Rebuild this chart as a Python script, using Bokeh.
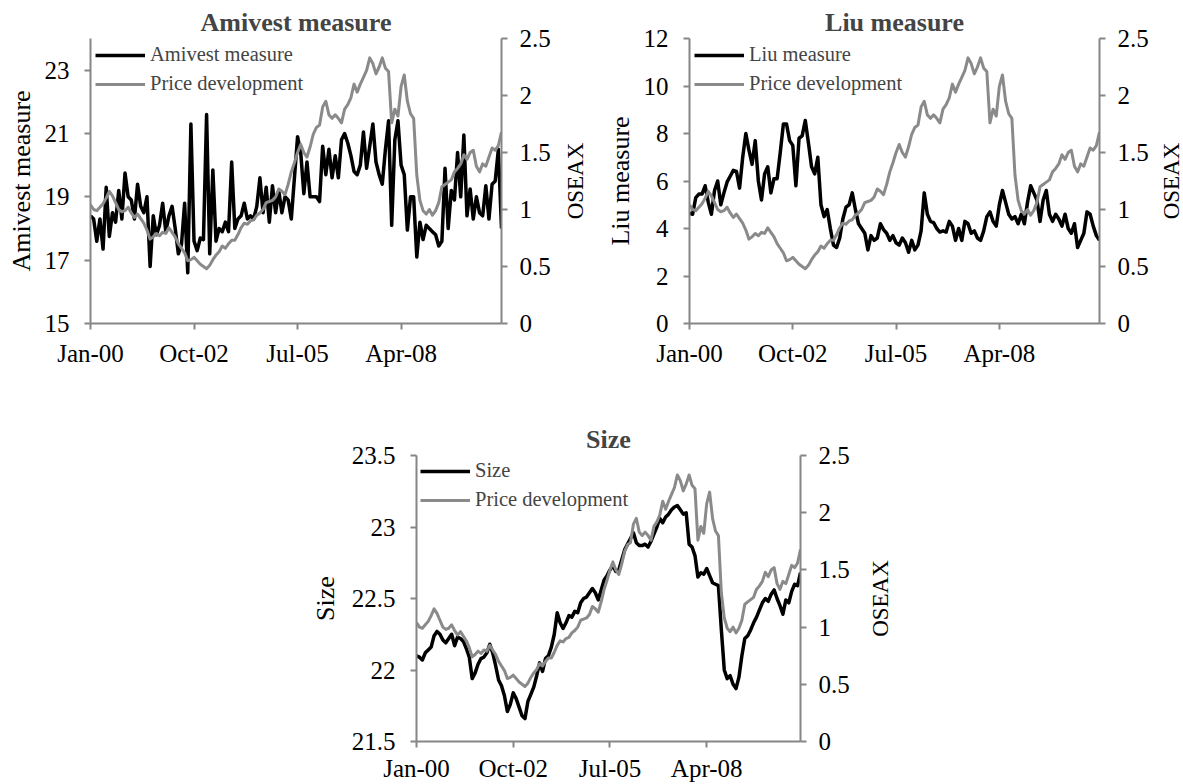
import pandas as pd
from bokeh.plotting import figure
from bokeh.models import (Range1d, LinearAxis, FixedTicker, Legend, LegendItem,
                          Spacer, CustomJSTickFormatter)
from bokeh.layouts import column, row
from bokeh.embed import file_html
from bokeh.resources import INLINE

# ---------------- data ----------------
months = list(pd.date_range("2000-01-01", periods=132, freq="MS").strftime("%b-%y"))
x_tick_labels = ["Jan-00", "Oct-02", "Jul-05", "Apr-08"]

oseax = [1.04, 1.00, 0.99, 1.02, 1.05, 1.10, 1.16, 1.12, 1.06, 1.00,
         0.98, 0.99, 1.02, 0.97, 0.93, 0.96, 0.92, 0.88, 0.82, 0.74,
         0.76, 0.79, 0.77, 0.80, 0.79, 0.84, 0.80, 0.76, 0.70, 0.66,
         0.62, 0.55, 0.56, 0.58, 0.55, 0.52, 0.50, 0.48, 0.51, 0.56,
         0.60, 0.63, 0.68, 0.66, 0.70, 0.73, 0.73, 0.78, 0.84, 0.88,
         0.87, 0.90, 0.91, 0.95, 0.97, 1.00, 1.06, 1.07, 1.08, 1.11,
         1.18, 1.16, 1.13, 1.22, 1.33, 1.41, 1.50, 1.57, 1.50, 1.46,
         1.55, 1.66, 1.72, 1.74, 1.90, 1.95, 1.83, 1.80, 1.83, 1.80,
         1.76, 1.88, 1.92, 1.98, 2.10, 2.03, 2.10, 2.16, 2.22, 2.33,
         2.28, 2.19, 2.25, 2.33, 2.24, 2.21, 1.76, 1.88, 1.82, 2.08,
         2.18, 1.95, 1.84, 1.80, 1.30, 1.08, 0.99, 0.96, 1.00, 0.95,
         0.99, 1.06, 1.20, 1.22, 1.24, 1.26, 1.33, 1.36, 1.40, 1.48,
         1.44, 1.50, 1.52, 1.38, 1.33, 1.40, 1.38, 1.46, 1.54, 1.52,
         1.56, 1.68]

amivest = [18.4, 18.3, 17.6, 18.3, 17.35, 19.3, 17.75, 18.5, 18.2, 19.2,
           18.3, 19.75, 19.0, 18.9, 18.3, 19.4, 18.7, 18.5, 19.0, 16.8,
           18.4, 17.8, 18.1, 18.8, 17.9, 18.4, 18.7, 18.0, 17.2, 17.5,
           18.8, 16.6, 21.3, 17.6, 17.3, 17.7, 17.65, 21.6, 17.2, 19.85,
           17.6, 18.0, 17.9, 18.2, 17.9, 20.1, 18.0, 18.3, 18.4, 18.8,
           18.3, 18.4, 18.3, 18.7, 19.6, 18.5, 19.3, 18.2, 19.35, 18.5,
           19.2, 18.5, 19.0, 18.9, 18.3, 19.6, 20.9, 20.4, 19.1, 20.1,
           19.0, 19.0, 19.0, 18.85, 20.6, 19.7, 20.5, 19.6, 20.3, 19.6,
           20.8, 21.0, 20.7, 20.3, 19.8, 19.7, 20.0, 21.05, 19.9, 20.6,
           21.3, 20.1, 19.7, 19.4, 20.5, 21.4, 18.1, 20.8, 21.4, 20.0,
           19.7, 17.95, 19.0, 19.0, 17.1, 18.2, 17.65, 18.1, 18.0, 17.9,
           17.8, 17.45, 17.6, 19.9, 18.0, 19.2, 18.9, 20.4, 19.0, 20.95,
           18.4, 19.25, 18.3, 19.0, 18.5, 18.4, 19.35, 18.3, 19.4, 19.5,
           20.5, 18.0]

liu = [4.65, 4.6, 5.3, 5.45, 5.45, 5.8, 5.1, 4.6, 5.6, 6.0,
       5.0, 5.5, 5.95, 6.2, 6.45, 6.4, 5.7, 7.0, 8.0, 7.3,
       6.7, 7.7, 6.0, 5.2, 6.3, 6.6, 5.5, 6.1, 6.1, 7.2,
       8.4, 8.4, 7.7, 7.5, 5.8, 7.8, 7.9, 8.55, 7.6, 6.6,
       6.3, 7.0, 5.0, 4.5, 4.8, 4.0, 3.3, 3.2, 3.6, 4.4,
       4.9, 5.0, 5.5, 4.8, 4.2, 4.0, 3.8, 3.1, 3.7, 3.5,
       3.6, 4.2, 3.95, 3.8, 3.5, 3.7, 3.4, 3.3, 3.6, 3.4,
       3.0, 3.5, 3.1, 3.3, 3.9, 5.5, 4.6, 4.3, 4.25, 4.0,
       3.85, 3.9, 3.85, 4.3, 4.1, 3.5, 4.0, 3.5, 4.3, 4.2,
       3.8, 3.9, 3.6, 3.5, 3.9, 4.5, 4.7, 4.3, 4.1, 5.0,
       5.6, 5.1, 4.6, 4.4, 4.5, 4.2, 4.6, 4.2, 5.1, 5.8,
       5.5, 5.2, 4.3, 5.2, 5.6, 4.6, 4.3, 4.6, 4.4, 4.1,
       4.6, 4.0, 3.8, 4.2, 3.2, 3.5, 3.8, 4.7, 4.6, 4.1,
       3.7, 3.5]

size = [22.10, 22.09, 22.07, 22.12, 22.14, 22.16, 22.24, 22.27, 22.25, 22.21,
        22.19, 22.22, 22.25, 22.17, 22.23, 22.22, 22.20, 22.15, 22.09, 21.94,
        21.98, 22.04, 22.08, 22.09, 22.12, 22.18, 22.12, 22.03, 21.93, 21.89,
        21.82, 21.71, 21.76, 21.84, 21.80, 21.74, 21.68, 21.66, 21.78, 21.83,
        21.88, 21.96, 22.05, 21.99, 22.08, 22.10, 22.16, 22.25, 22.40, 22.33,
        22.29, 22.33, 22.38, 22.37, 22.41, 22.40, 22.47, 22.50, 22.51, 22.54,
        22.57, 22.54, 22.49, 22.56, 22.63, 22.66, 22.70, 22.73, 22.69, 22.70,
        22.77, 22.84, 22.88, 22.92, 22.96, 22.89, 22.87, 22.87, 22.88, 22.86,
        22.90, 22.95, 23.00, 23.06, 23.03, 23.07, 23.09, 23.12, 23.14, 23.15,
        23.12, 23.09, 23.10, 22.88, 22.86, 22.80, 22.65, 22.68, 22.67, 22.71,
        22.66, 22.61, 22.60, 22.59, 22.28, 22.00, 21.94, 21.96, 21.90, 21.87,
        21.95, 22.10, 22.22, 22.24, 22.28, 22.33, 22.37, 22.42, 22.47, 22.50,
        22.48, 22.53, 22.56, 22.50, 22.45, 22.39, 22.49, 22.47, 22.55, 22.60,
        22.59, 22.68]

amivest_ticks = [15, 17, 19, 21, 23]
liu_ticks = [0, 2, 4, 6, 8, 10, 12]
size_ticks = [21.5, 22, 22.5, 23, 23.5]
oseax_ticks = [0, 0.5, 1, 1.5, 2, 2.5]

# ---------------- styling ----------------
FONT = "Liberation Serif"
AXIS_GRAY = "#868686"
PRICE_GRAY = "#8a8a8a"
TICK_FS = "25px"
LABEL_FS = "26px"
OSEAX_FS = "23px"

x = list(range(len(months)))
x_tick_pos = [months.index(l) for l in x_tick_labels]

num_fmt = CustomJSTickFormatter(code="return String(Math.round(tick*10)/10);")


def style_axis(ax, tick_out=6, standoff=15):
    ax.axis_line_color = AXIS_GRAY
    ax.axis_line_width = 2
    ax.major_tick_line_color = AXIS_GRAY
    ax.major_tick_line_width = 2
    ax.major_tick_in = 0
    ax.major_tick_out = tick_out
    ax.minor_tick_line_color = None
    ax.major_label_text_font = FONT
    ax.major_label_text_font_size = TICK_FS
    ax.major_label_text_color = "#000000"
    ax.major_label_standoff = standoff
    ax.axis_label_text_font = FONT
    ax.axis_label_text_font_size = LABEL_FS
    ax.axis_label_text_font_style = "normal"
    ax.axis_label_text_color = "#000000"


def panel(title, name, series, y_lo, y_hi, y_ticks, fw, fh, borders,
          left_lab_std, x_std, legend_pad, legend_margin):
    p = figure(frame_width=fw, frame_height=fh,
               x_range=Range1d(0, len(months) - 1), y_range=Range1d(y_lo, y_hi),
               output_backend="svg", toolbar_location=None,
               min_border_left=borders[0], min_border_right=borders[1],
               min_border_top=borders[2], min_border_bottom=borders[3],
               background_fill_color="white", border_fill_color="white")
    p.outline_line_color = None
    p.xgrid.visible = False
    p.ygrid.visible = False

    p.title.text = title
    p.title.text_font = FONT
    p.title.text_font_size = "26px"
    p.title.text_font_style = "bold"
    p.title.align = "center"
    p.title.standoff = 4

    p.extra_y_ranges = {"oseax": Range1d(0, 2.5)}

    xa = p.xaxis[0]
    style_axis(xa, standoff=x_std)
    xa.ticker = FixedTicker(ticks=x_tick_pos)
    xa.major_label_overrides = {pos: lab for pos, lab in zip(x_tick_pos, x_tick_labels)}

    ya = p.yaxis[0]
    style_axis(ya)
    ya.ticker = FixedTicker(ticks=y_ticks)
    ya.formatter = num_fmt
    ya.axis_label = name
    ya.axis_label_standoff = left_lab_std

    ra = LinearAxis(y_range_name="oseax", ticker=FixedTicker(ticks=oseax_ticks),
                    formatter=num_fmt)
    style_axis(ra, standoff=12)
    p.add_layout(ra, "right")

    r1 = p.line(x, series, line_color="black", line_width=3.5, line_join="round")
    r2 = p.line(x, oseax, y_range_name="oseax", line_color=PRICE_GRAY,
                line_width=3, line_join="round")

    leg = Legend(items=[LegendItem(label=name, renderers=[r1]),
                        LegendItem(label="Price development", renderers=[r2])],
                 location="top_left")
    leg.margin = legend_margin
    leg.padding = legend_pad
    leg.border_line_color = None
    leg.background_fill_alpha = 0
    leg.label_text_font = FONT
    leg.label_text_font_size = "20.5px"
    leg.glyph_width = 50
    leg.glyph_height = 22
    leg.label_height = 22
    leg.label_standoff = 5
    leg.spacing = 6
    p.add_layout(leg)
    return p


def oseax_title(fh, top, bottom, width=28):
    """Narrow companion whose (left-side) axis title reads bottom-to-top,
    carrying the 'OSEAX' title of the secondary axis beside it."""
    t = figure(frame_width=1, frame_height=fh, x_range=Range1d(0, 1),
               y_range=Range1d(0, 2.5), x_axis_location=None,
               output_backend="svg", toolbar_location=None,
               min_border_left=width - 1, min_border_right=0,
               min_border_top=top, min_border_bottom=bottom,
               background_fill_color="white", border_fill_color="white")
    t.outline_line_color = None
    t.xgrid.visible = False
    t.ygrid.visible = False
    ax = t.yaxis[0]
    ax.ticker = FixedTicker(ticks=[])
    ax.axis_line_color = None
    ax.major_tick_line_color = None
    ax.minor_tick_line_color = None
    ax.major_tick_out = 0
    ax.major_label_standoff = 0
    ax.axis_label = "OSEAX"
    ax.axis_label_standoff = 1
    ax.axis_label_text_font = FONT
    ax.axis_label_text_font_size = OSEAX_FS
    ax.axis_label_text_font_style = "normal"
    ax.axis_label_text_color = "#000000"
    return t


p1 = panel("Amivest measure", "Amivest measure", amivest, 15, 24, amivest_ticks,
           411, 285, (90, 58, 38, 57), 6, 10, 6, 5)
t1 = oseax_title(285, 38, 57)
p2 = panel("Liu measure", "Liu measure", liu, 0, 12, liu_ticks,
           410, 285, (100, 56, 38, 57), 6, 10, 6, 5)
t2 = oseax_title(285, 38, 57)
p3 = panel("Size", "Size", size, 21.5, 23.5, size_ticks,
           384, 286, (116, 64, 75, 43), 9, 7, 2, 4)
t3 = oseax_title(286, 75, 43)

layout = column(row(p1, t1, p2, t2),
                row(Spacer(width=300, height=10), p3, t3))

open("out.html", "w").write(file_html(layout, INLINE))
